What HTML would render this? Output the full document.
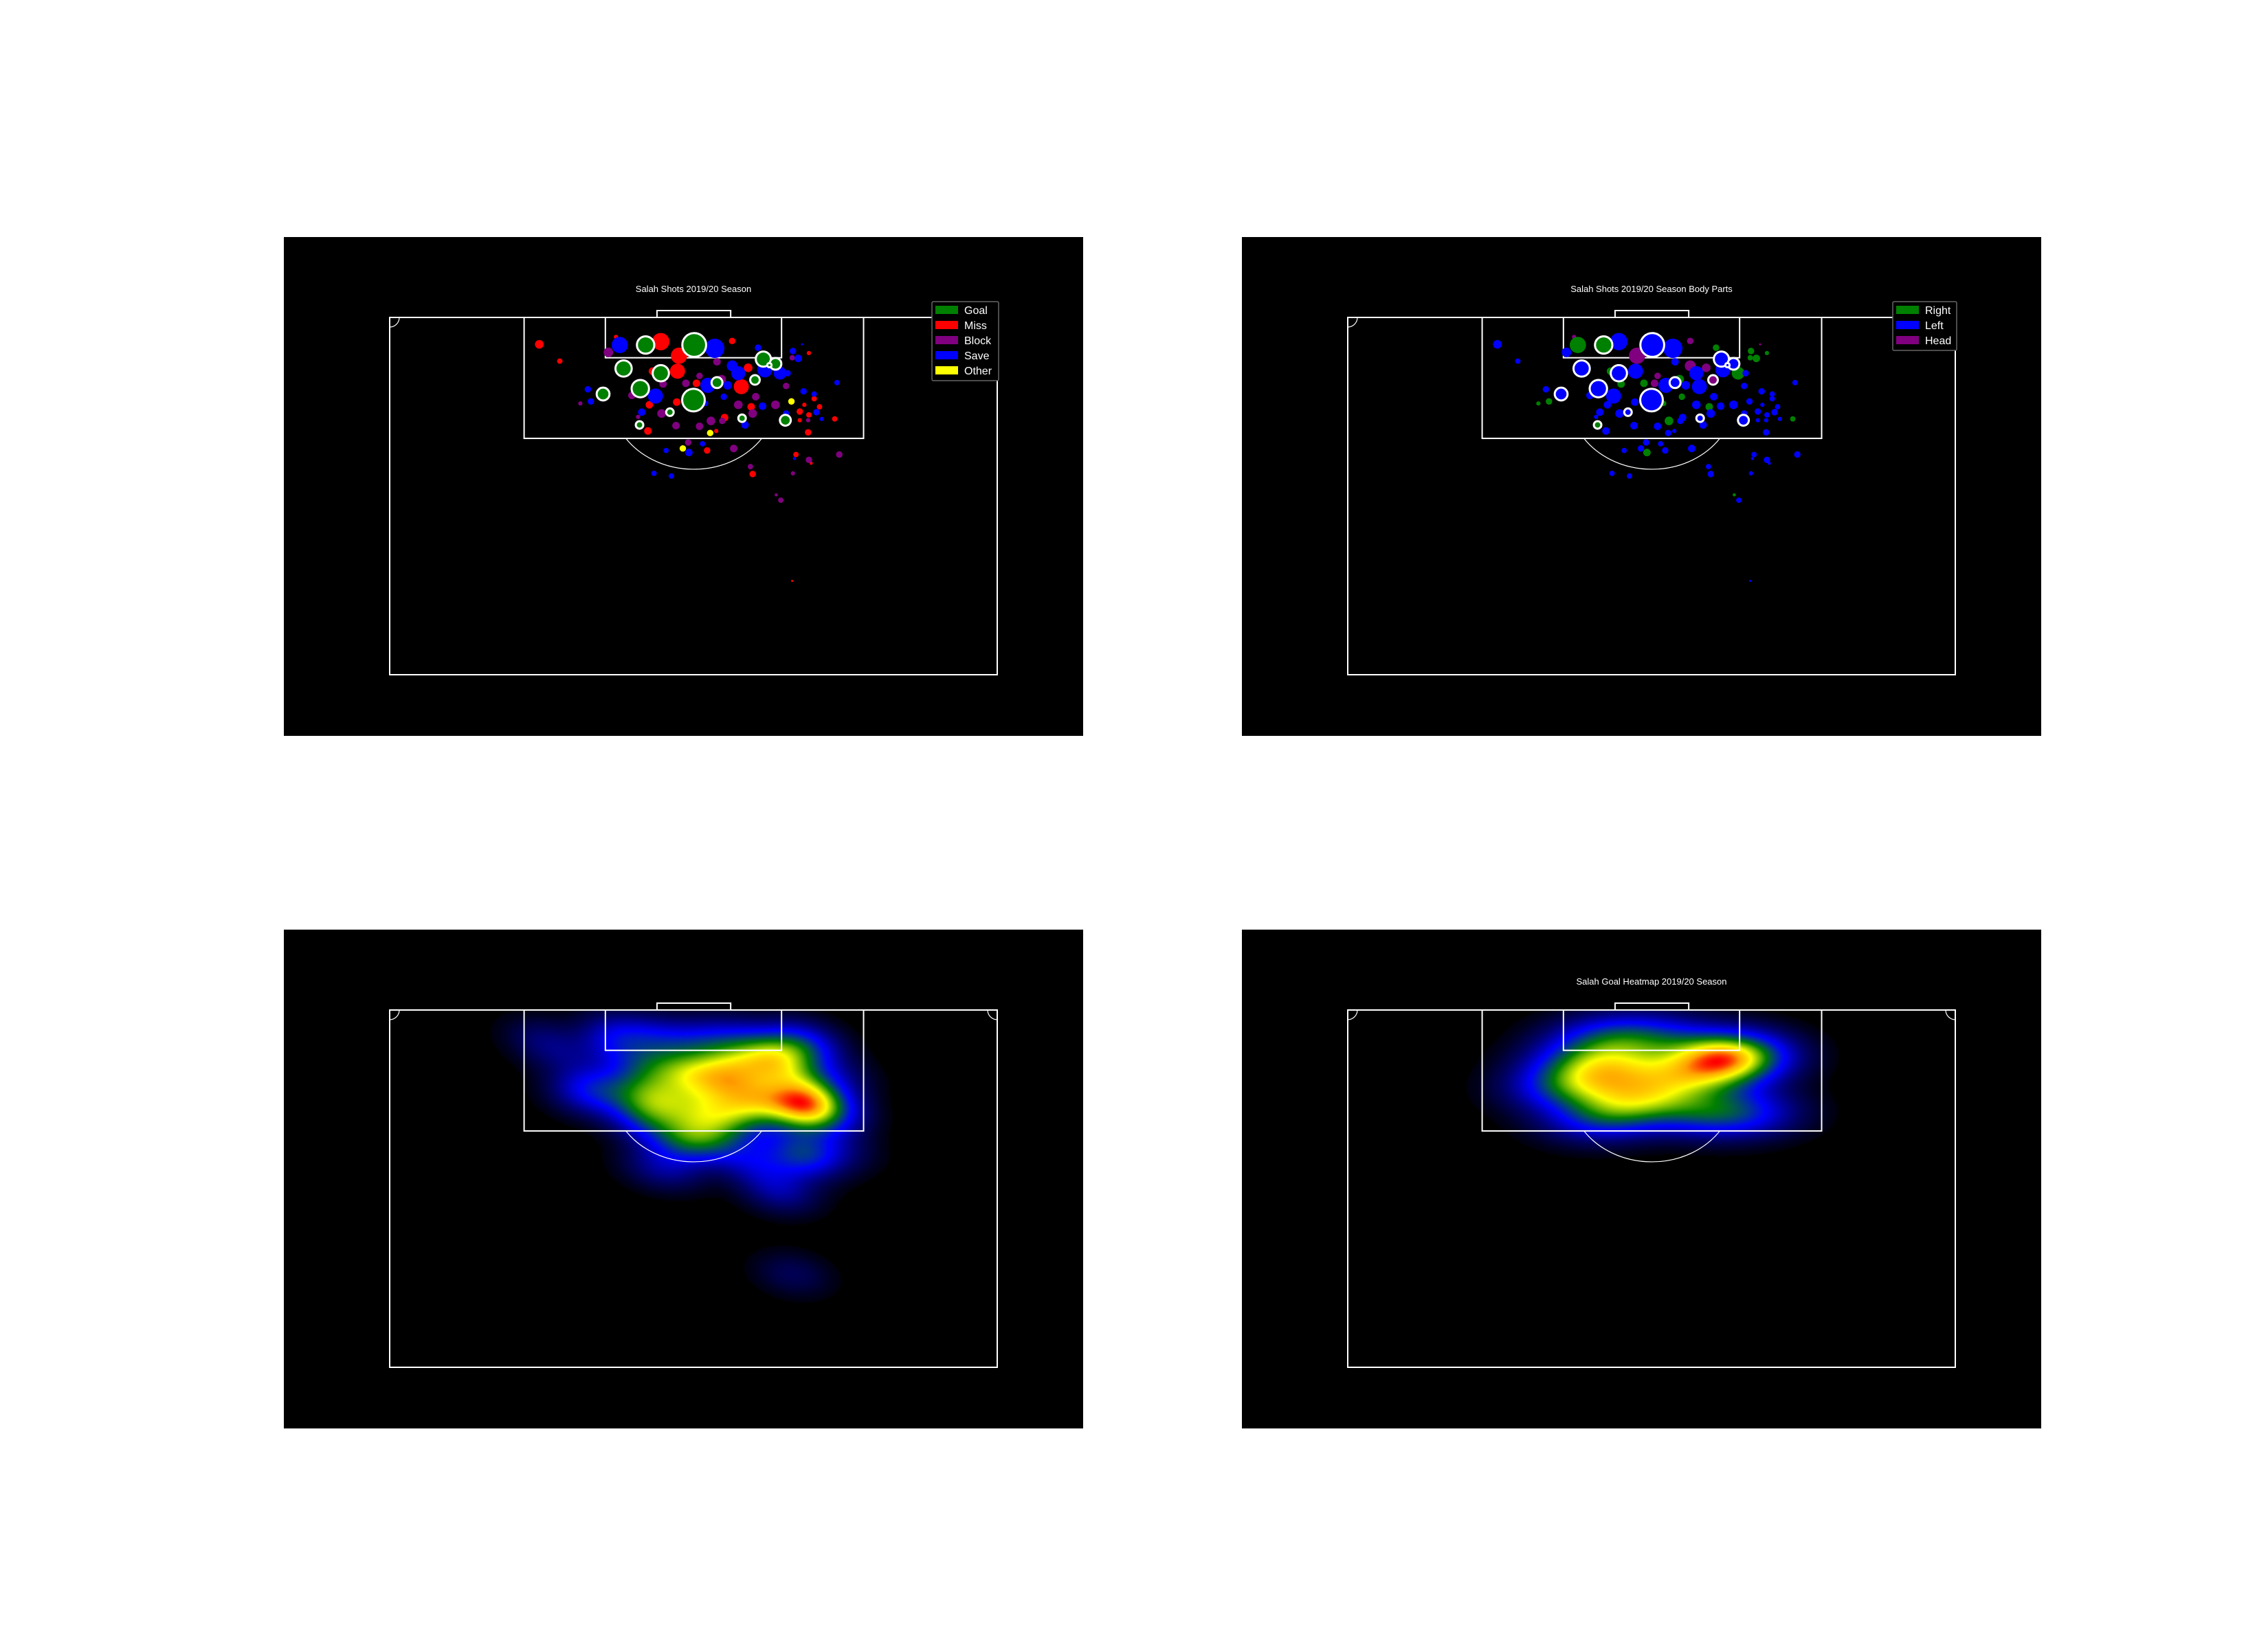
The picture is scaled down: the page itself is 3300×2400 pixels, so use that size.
<!DOCTYPE html>
<html>
<head>
<meta charset="utf-8">
<style>
  html,body{margin:0;padding:0;background:#fff;}
  body{width:3300px;height:2400px;position:relative;overflow:hidden;font-family:"Liberation Sans",sans-serif;}
  .panel{position:absolute;width:1163px;height:726px;background:#000;}
  .panel svg,.panel canvas{position:absolute;left:0;top:0;}
</style>
</head>
<body>
<div class="panel" id="p1" style="left:413px;top:345px;">
  <svg id="s1" width="1163" height="726">
    <g id="pitch1"></g>
    <g id="dots1"></g>
    <text x="596" y="80" fill="#fff" font-size="13" text-anchor="middle" font-family="Liberation Sans, sans-serif">Salah Shots 2019/20 Season</text>
    <g>
      <rect x="943" y="94" width="97" height="115" fill="#000" stroke="#666" stroke-width="1.5" rx="2"/>
      <g><rect x="948" y="100" width="33" height="12" fill="#008000"/><text x="990" y="112" fill="#fff" font-size="16">Goal</text></g>
      <g><rect x="948" y="122" width="33" height="12" fill="#ff0000"/><text x="990" y="134" fill="#fff" font-size="16">Miss</text></g>
      <g><rect x="948" y="144" width="33" height="12" fill="#800080"/><text x="990" y="156" fill="#fff" font-size="16">Block</text></g>
      <g><rect x="948" y="166" width="33" height="12" fill="#0000ff"/><text x="990" y="178" fill="#fff" font-size="16">Save</text></g>
      <g><rect x="948" y="188" width="33" height="12" fill="#ffff00"/><text x="990" y="200" fill="#fff" font-size="16">Other</text></g>
    </g>
  </svg>
</div>

<div class="panel" id="p2" style="left:1807px;top:345px;">
  <svg id="s2" width="1163" height="726">
    <g id="pitch2"></g>
    <g id="dots2"></g>
    <text x="596" y="80" fill="#fff" font-size="13" text-anchor="middle" font-family="Liberation Sans, sans-serif">Salah Shots 2019/20 Season Body Parts</text>
    <g>
      <rect x="947" y="94" width="93" height="71" fill="#000" stroke="#666" stroke-width="1.5" rx="2"/>
      <g><rect x="952" y="100" width="33" height="12" fill="#008000"/><text x="994" y="112" fill="#fff" font-size="16">Right</text></g>
      <g><rect x="952" y="122" width="33" height="12" fill="#0000ff"/><text x="994" y="134" fill="#fff" font-size="16">Left</text></g>
      <g><rect x="952" y="144" width="33" height="12" fill="#800080"/><text x="994" y="156" fill="#fff" font-size="16">Head</text></g>
    </g>
  </svg>
</div>

<div class="panel" id="p3" style="left:413px;top:1353px;">
  <canvas id="c3" width="1163" height="726"></canvas>
  <svg id="s3" width="1163" height="726">
    <g id="pitch3"></g>
  </svg>
</div>

<div class="panel" id="p4" style="left:1807px;top:1353px;">
  <canvas id="c4" width="1163" height="726"></canvas>
  <svg id="s4" width="1163" height="726">
    <g id="pitch4"></g>
    <text x="596" y="80" fill="#fff" font-size="13" text-anchor="middle" font-family="Liberation Sans, sans-serif">Salah Goal Heatmap 2019/20 Season</text>
  </svg>
</div>

<script>
// ---- shot data (pitch units: x across 0-80, y = distance from goal line) ----
const shotX = [
 29.8,19.7,22.4,35.7,38.1,37.9,34.6,45.1,55.2,47.2,40.4,46.3,34.2,37.8,47.6,44.1,34.0,43.0,54.0,54.6,55.2,55.9,56.6,54.0,58.6,55.1,41.8,53.5,55.5,47.8,53.0,
 28.8,43.1,40.8,43.7,39.0,36.0,52.2,31.9,48.2,25.1,45.9,50.8,47.8,35.8,42.3,43.8,37.7,40.8,32.7,55.1,53.0,39.3,45.3,55.2,59.2,53.1,47.5,50.9,51.5,
 30.3,42.8,48.5,53.1,53.8,54.3,45.1,45.9,49.4,51.4,52.4,44.5,41.9,35.0,44.0,26.1,26.5,41.6,49.1,33.2,58.9,54.5,55.9,56.2,56.9,52.2,46.8,41.2,36.4,39.4,34.8,37.1,53.3,
 52.9,42.2,38.6,
 33.7,40.1,30.8,35.7,49.2,50.8,43.1,48.1,33.0,28.1,40.0,36.9,32.9,46.4,52.1,50.0
];
const shotY = [
 2.9,4.0,6.5,3.6,5.7,8.0,8.0,3.5,5.3,7.5,9.8,10.3,13.0,12.6,13.3,14.9,16.9,16.9,14.0,13.0,14.5,12.1,13.3,15.3,15.1,17.1,19.8,20.4,21.7,23.3,39.2,
 5.2,6.6,8.7,9.2,9.8,9.9,10.2,11.6,11.8,12.8,13.0,13.0,14.3,14.3,15.4,15.4,16.1,16.2,14.8,15.3,6.0,18.6,19.5,21.2,20.4,23.2,22.2,26.4,27.2,
 4.1,4.6,4.5,5.0,6.1,4.0,7.2,8.3,7.8,8.3,8.3,10.1,10.1,11.7,11.8,10.7,12.5,12.8,13.2,14.1,9.7,11.0,11.4,14.1,15.1,14.3,16.0,18.8,19.8,20.1,23.2,23.6,21.0,
 12.5,17.2,19.5,
 4.1,4.1,7.6,8.3,6.2,6.9,9.7,9.3,10.6,11.4,12.3,14.1,16.0,15.0,15.3,7.1
];
const shotXg = [
 .02,.082,.032,.33,.29,.25,.062,.046,.02,.082,.062,.25,.062,.062,.062,.062,.062,.02,.046,.02,.032,.032,.032,.02,.032,.046,.046,.032,.011,.046,.005,
 .10,.062,.046,.082,.062,.062,.046,.062,.062,.02,.082,.082,.082,.082,.082,.046,.062,.062,.02,.02,.032,.046,.062,.046,.046,.02,.032,.011,.032,
 .29,.41,.046,.046,.062,.005,.13,.22,.25,.18,.046,.082,.25,.25,.046,.046,.046,.032,.062,.062,.032,.046,.032,.046,.02,.046,.062,.032,.032,.062,.032,.032,.011,
 .046,.046,.046,
 .33,.62,.29,.29,.25,.15,.13,.10,.33,.18,.56,.062,.062,.062,.13,.02
];
const shotOutcome = [].concat(
 Array(31).fill('Miss'), Array(29).fill('Block'), Array(33).fill('Save'), Array(3).fill('Other'), Array(16).fill('Goal')
);
const shotBody = [
 'H','L','L','L','H','L','R','H','R','H','H','L','L','L','R','L','L','L','L','L','L','L','L','L','R','L','L','L','L','L','L',
 'L','L','H','R','R','R','L','L','L','R','L','L','L','L','R','L','L','L','L','L','R','L','L','L','L','L','L','R','L',
 'R','L','R','R','R','H','H','L','L','R','L','L','L','L','R','L','R','R','L','L','L','L','L','L','L','L','L','L','L','R','L','L','L',
 'L','L','L',
 'R','L','L','L','L','L','L','H','L','L','L','L','R','L','L','L'
];
const outcomeColors = {Goal:'#008000', Miss:'#ff0000', Block:'#800080', Save:'#0000ff', Other:'#ffff00'};
const bodyColors = {R:'#008000', L:'#0000ff', H:'#800080'};

// ---- axes ----
const PL = 154, PT = 117, PW = 884, PH = 520;
const UX = PW / 80, UY = 9.78;
function xScale(u){ return PL + u * UX; }
function yScale(v){ return PT + v * UY; }
function rScale(xg){ return 22 * Math.sqrt(xg); }

const NS = 'http://www.w3.org/2000/svg';
function mk(tag, attrs){
  const e = document.createElementNS(NS, tag);
  for (const k in attrs) e.setAttribute(k, attrs[k]);
  return e;
}

function drawPitch(g){
  const line = {fill:'none', stroke:'#fff', 'stroke-width':2};
  const outer = mk('rect', Object.assign({x:PL, y:PT, width:PW, height:PH}, line));
  
  
  g.appendChild(outer);
  const box = mk('rect', Object.assign({x:xScale(17.7), y:PT, width:xScale(62.4)-xScale(17.7), height:18*UY}, line));
  
  
  g.appendChild(box);
  const six = mk('rect', Object.assign({x:xScale(28.4), y:PT, width:xScale(51.6)-xScale(28.4), height:6*UY}, line));
  
  
  g.appendChild(six);
  const goal = mk('rect', Object.assign({x:xScale(35.2), y:PT-10, width:xScale(44.9)-xScale(35.2), height:10}, line));
  
  
  g.appendChild(goal);
  const cx = xScale(40.05), cy = yScale(12), rx = 120, ry = 103.6;
  const by = yScale(18);
  const dy = by - cy;
  const dx = rx * Math.sqrt(1 - (dy*dy)/(ry*ry));
  const arc = mk('path', {d:`M ${cx-dx} ${by} A ${rx} ${ry} 0 0 0 ${cx+dx} ${by}`, fill:'none', stroke:'#fff', 'stroke-width':1.2});
  
  
  g.appendChild(arc);
  const c1 = mk('path', {d:`M ${PL} ${PT+14} A 14 14 0 0 0 ${PL+14} ${PT}`, fill:'none', stroke:'#fff', 'stroke-width':1.2});
  
  
  g.appendChild(c1);
  const c2 = mk('path', {d:`M ${PL+PW} ${PT+14} A 14 14 0 0 1 ${PL+PW-14} ${PT}`, fill:'none', stroke:'#fff', 'stroke-width':1.2});
  
  
  g.appendChild(c2);
}
['pitch1','pitch2','pitch3','pitch4'].forEach(id => drawPitch(document.getElementById(id)));

function drawShots(g, colorFn){
  for (let i = 0; i < shotX.length; i++){
    const isGoal = shotOutcome[i] === 'Goal';
    const c = mk('circle', {cx:xScale(shotX[i]), cy:yScale(shotY[i]), r:rScale(shotXg[i]), fill:colorFn(i)});
    if (isGoal){ c.setAttribute('stroke', '#fff'); c.setAttribute('stroke-width', 3); }
    
    
    g.appendChild(c);
  }
}
drawShots(document.getElementById('dots1'), i => outcomeColors[shotOutcome[i]]);
drawShots(document.getElementById('dots2'), i => bodyColors[shotBody[i]]);

// ---- KDE heatmaps ----
const cmapStops = [
  [0.00, 0, 0, 0], [0.05, 0, 0, 60], [0.28, 0, 0, 255], [0.52, 0, 128, 0],
  [0.74, 255, 255, 0], [0.88, 255, 165, 0], [1.00, 255, 0, 0]
];
function cmap(t){
  for (let k = 1; k < cmapStops.length; k++){
    if (t <= cmapStops[k][0]){
      const a = cmapStops[k-1], b = cmapStops[k];
      const f = (t - a[0]) / (b[0] - a[0]);
      return [a[1]+(b[1]-a[1])*f, a[2]+(b[2]-a[2])*f, a[3]+(b[3]-a[3])*f];
    }
  }
  return [255,0,0];
}
function drawKDE(canvasId, idx, bwAdjust){
  const n = idx.length;
  const px = idx.map(i => xScale(shotX[i])), py = idx.map(i => yScale(shotY[i]));
  const mx = px.reduce((a,b)=>a+b,0)/n, my = py.reduce((a,b)=>a+b,0)/n;
  let sxx=0, syy=0, sxy=0;
  for (let k=0;k<n;k++){ sxx+=(px[k]-mx)**2; syy+=(py[k]-my)**2; sxy+=(px[k]-mx)*(py[k]-my); }
  sxx/=(n-1); syy/=(n-1); sxy/=(n-1);
  const f2 = Math.pow(n, -1/3) * bwAdjust * bwAdjust;
  const a = sxx*f2, d = syy*f2, b = sxy*f2;
  const det = a*d - b*b;
  const ia = d/det, id = a/det, ib = -b/det;
  const step = 2;
  const W = Math.ceil(PW/step), H = Math.ceil(PH/step);
  const dens = new Float32Array(W*H);
  let max = 0;
  for (let j=0;j<H;j++){
    const y = PT + j*step;
    for (let i=0;i<W;i++){
      const x = PL + i*step;
      let s = 0;
      for (let k=0;k<n;k++){
        const dx = x-px[k], dy = y-py[k];
        s += Math.exp(-0.5*(ia*dx*dx + 2*ib*dx*dy + id*dy*dy));
      }
      dens[j*W+i] = s;
      if (s > max) max = s;
    }
  }
  const off = document.createElement('canvas');
  off.width = W; off.height = H;
  const octx = off.getContext('2d');
  const img = octx.createImageData(W, H);
  for (let q=0;q<W*H;q++){
    const t = dens[q]/max;
    const c = t < 0.012 ? [0,0,0] : cmap(t);
    img.data[q*4]=c[0]; img.data[q*4+1]=c[1]; img.data[q*4+2]=c[2]; img.data[q*4+3]=255;
  }
  octx.putImageData(img, 0, 0);
  const ctx = document.getElementById(canvasId).getContext('2d');
  ctx.fillStyle = '#000'; ctx.fillRect(0,0,1163,726);
  ctx.imageSmoothingEnabled = true;
  ctx.drawImage(off, PL, PT, W*step, H*step);
}
const allIdx = shotX.map((_, i) => i);
const goalIdx = allIdx.filter(i => shotOutcome[i] === 'Goal');
drawKDE('c3', allIdx, 0.8);
drawKDE('c4', goalIdx, 1.0);
</script>
</body>
</html>
